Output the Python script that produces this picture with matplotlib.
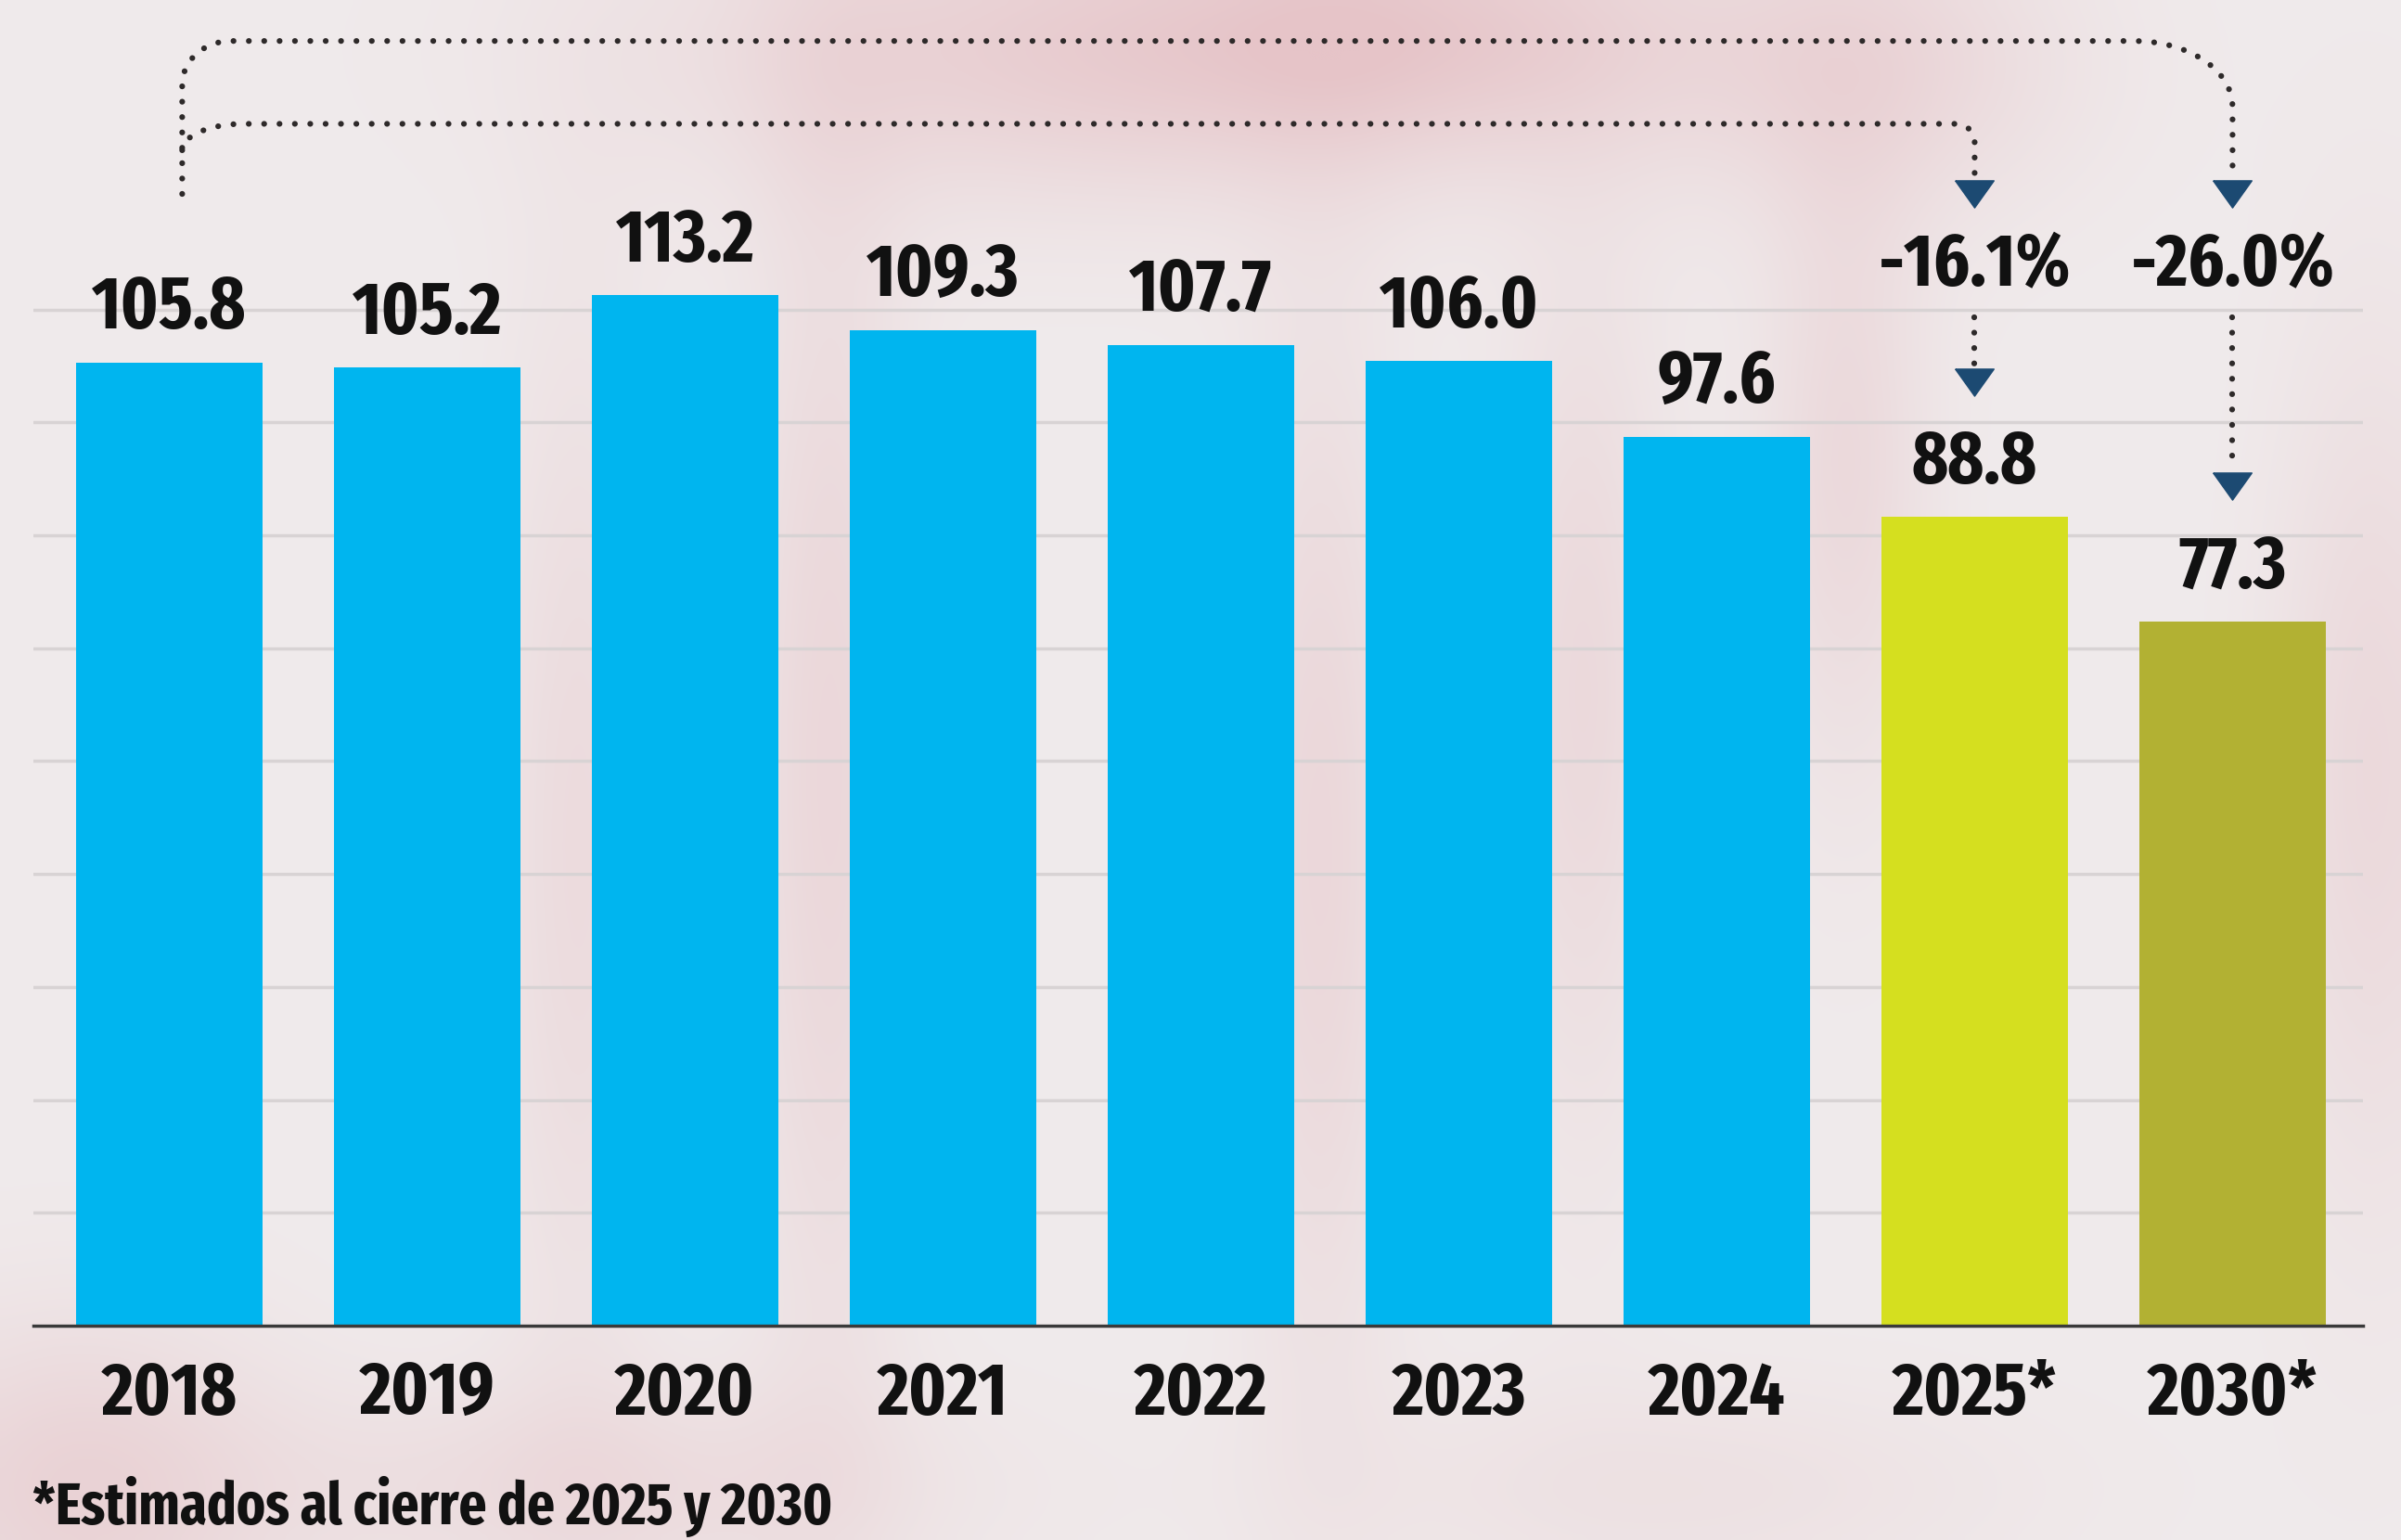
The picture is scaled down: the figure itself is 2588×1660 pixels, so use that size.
import matplotlib
matplotlib.use("Agg")
import matplotlib.pyplot as plt
import numpy as np
from matplotlib import font_manager as fm
from matplotlib.textpath import TextPath

# data
years = ['2018', '2019', '2020', '2021', '2022', '2023', '2024', '2025*', '2030*']
values = [105.8, 105.2, 113.2, 109.3, 107.7, 106.0, 97.6, 88.8, 77.3]
bar_colors = ['#00b5ef'] * 7 + ['#d5df1f', '#b2b133']
changes = ['-16.1%', '-26.0%']
footnote = '*Estimados al cierre de 2025 y 2030'


def pick_font():
    # narrowest bold upright face that is installed
    best, best_key = None, None
    for f in fm.fontManager.ttflist:
        if f.style != 'normal':
            continue
        low = (f.name + ' ' + f.fname).lower().replace(' ', '').replace('-', '')
        if 'italic' in low or 'oblique' in low or 'cjk' in low or 'mono' in low:
            continue
        st = str(f.stretch).lower()
        if 'extracondensed' in low or 'ultracondensed' in low or st in ('extra-condensed', 'ultra-condensed'):
            s = 3
        elif 'semicondensed' in low or st == 'semi-condensed':
            s = 1
        elif 'condensed' in low or 'narrow' in low or st == 'condensed':
            s = 2
        else:
            s = 0
        w = f.weight if isinstance(f.weight, (int, float)) else fm.weight_dict.get(f.weight, 400)
        key = (s, -abs(w - 700))
        if best_key is None or key > best_key:
            best, best_key = f, key
    return fm.FontProperties(fname=best.fname)


fp = pick_font()


def fit_size(text, w_px, h_px, ref='0123'):
    # font size (pt) so the text is at most w_px wide and digits h_px tall
    ew = TextPath((0, 0), text, size=100, prop=fp).get_extents().width
    eh = TextPath((0, 0), ref, size=100, prop=fp).get_extents().height
    return min(100 * w_px * 0.72 / ew, 100 * h_px * 0.72 / eh)


val_size = fit_size('105.8', 165, 74)
foot_size = fit_size(footnote, 860, 62)

fig = plt.figure(figsize=(25.88, 16.6), dpi=100)

# soft blurred background
bg = fig.add_axes([0, 0, 1, 1], zorder=-5)
h, w = 166, 259
yy, xx = np.mgrid[0:h, 0:w]
xx = xx / (w - 1)
yy = yy / (h - 1)
blobs = [
    (0.45, 0.03, 0.12, 0.07, 0.7),
    (0.60, 0.02, 0.08, 0.06, 0.6),
    (0.78, 0.04, 0.06, 0.07, 0.5),
    (0.03, 0.97, 0.06, 0.08, 0.6),
    (0.24, 0.55, 0.025, 0.25, 0.4),
    (0.345, 0.50, 0.025, 0.30, 0.5),
    (0.55, 0.55, 0.025, 0.25, 0.5),
    (0.66, 0.45, 0.025, 0.20, 0.45),
    (0.77, 0.30, 0.025, 0.15, 0.45),
    (0.99, 0.50, 0.03, 0.20, 0.45),
    (0.25, 0.97, 0.10, 0.05, 0.4),
    (0.70, 0.97, 0.10, 0.05, 0.25),
]
t = np.zeros((h, w))
for bx, by, sx, sy, a in blobs:
    t += a * np.exp(-((xx - bx) ** 2 / (2 * sx ** 2) + (yy - by) ** 2 / (2 * sy ** 2)))
t = np.clip(t, 0, 1)[..., None]
base = np.array([240, 235, 236]) / 255
pink = np.array([230, 196, 200]) / 255
img = base * (1 - t) + pink * t
bg.imshow(img, extent=[0, 1, 0, 1], aspect='auto', interpolation='bicubic')
bg.set_axis_off()

ax = fig.add_axes([0.0139, 0.1392, 0.9703, 0.8608])
ax.set_facecolor('none')
x = np.arange(len(years))
ax.bar(x, values, width=0.72, color=bar_colors, zorder=3)
ax.set_xlim(-0.527, 8.506)
ax.set_ylim(0, 145.6)

ax.set_yticks(np.arange(1, 10) * 12.4)
ax.set_yticklabels([])
ax.tick_params(axis='y', length=0)
ax.grid(axis='y', color='#d8d3d4', linewidth=2.5, zorder=0)
ax.set_axisbelow(True)
for s in ['top', 'right', 'left']:
    ax.spines[s].set_visible(False)
ax.spines['bottom'].set_color('#3a3a3a')
ax.spines['bottom'].set_linewidth(2.5)
ax.spines['bottom'].set_zorder(4)

ax.set_xticks(x)
ax.set_xticklabels(years, fontproperties=fp, fontsize=val_size, color='#111111')
ax.tick_params(axis='x', length=0, pad=25)

for xi, v in zip(x, values):
    ax.annotate(f'{v:.1f}', (xi, v), xytext=(0, 26), textcoords='offset points',
                ha='center', va='baseline', fontproperties=fp, fontsize=val_size,
                color='#111111')

# dotted connectors
dot_style = dict(color='#2e2a2a', linewidth=4.5, linestyle=(0, (0.01, 2.64)),
                 dash_capstyle='round', zorder=5)


def arc(cx, cy, rx, ry, a0, a1):
    a = np.radians(np.linspace(a0, a1, 20))
    return cx + rx * np.cos(a), cy + ry * np.sin(a)


x0 = 0.05
top_y = 141.1
inner_y = 132.0
i25, i30 = 7, 8

# outer bracket 2018 -> 2030
ax1, ay1 = arc(x0 + 0.19, top_y - 4.8, 0.19, 4.8, 180, 90)
ax2, ay2 = arc(i30 - 0.38, top_y - 7.2, 0.38, 7.2, 90, 0)
px = np.concatenate([[x0], ax1, ax2, [i30]])
py = np.concatenate([[124.3], ay1, ay2, [126.2]])
ax.plot(px, py, **dot_style)

# inner bracket 2018 -> 2025
bx1, by1 = arc(x0 + 0.24, inner_y - 2.9, 0.24, 2.9, 180, 90)
bx2, by2 = arc(i25 - 0.072, inner_y - 2.0, 0.072, 2.0, 90, 0)
px = np.concatenate([bx1, bx2, [i25]])
py = np.concatenate([by1, by2, [126.2]])
ax.plot(px, py, **dot_style)

# lower connectors to the bars
ax.plot([i25, i25], [110.8, 105.4], **dot_style)
ax.plot([i30, i30], [110.8, 94.0], **dot_style)

tri = [(-1, 0.7), (1, 0.7), (0, -0.7), (-1, 0.7)]
ax.plot([i25, i30], [124.3, 124.3], linestyle='none', marker=tri, markersize=30,
        color='#1c4a72', zorder=6)
ax.plot([i25, i30], [103.6, 92.2], linestyle='none', marker=tri, markersize=30,
        color='#1c4a72', zorder=6)

for xi, label in zip([i25, i30], changes):
    ax.text(xi, 114.2, label, ha='center', va='baseline', fontproperties=fp,
            fontsize=val_size, color='#111111', zorder=6)

fig.text(0.0135, 0.0102, footnote, ha='left', va='baseline', fontproperties=fp,
         fontsize=foot_size, color='#111111')

fig.savefig('out.png', dpi=100)
